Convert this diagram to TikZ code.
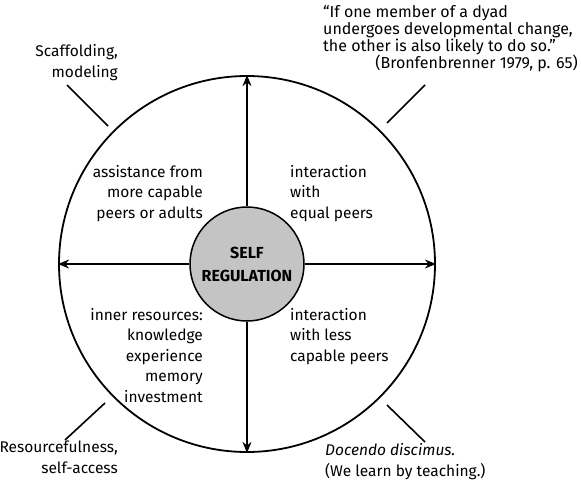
\documentclass[tikz,border=0pt]{standalone}
\usepackage{fontspec}
\setmainfont{Fira Sans}
\usetikzlibrary{arrows.meta}
\definecolor{innergray}{HTML}{C4C4C4}
\tikzset{
  lbl/.style={inner sep=0pt, font=\fontsize{15.5}{20.5}\selectfont},
  qlbl/.style={inner sep=0pt, font=\fontsize{16}{17}\selectfont},
  ring/.style={circle, draw, line width=1.8pt, minimum size=376pt, inner sep=0pt},
  hub/.style={circle, draw, line width=1.5pt, fill=innergray, minimum size=114pt, inner sep=0pt,
    align=center, font=\fontsize{16}{23}\selectfont\bfseries},
  spoke/.style={line width=1.4pt, -{Stealth[length=11pt,width=9pt]}},
  tick/.style={line width=1.6pt}
}
\begin{document}
\begin{tikzpicture}[x=1pt,y=-1pt]
\useasboundingbox (0,0) rectangle (581,480);
\node[ring] (outer) at (247,264) {};
\node[hub] (inner) at (247,264) {SELF\\REGULATION};
\draw[spoke] (inner.north) -- (outer.north);
\draw[spoke] (inner.south) -- (outer.south);
\draw[spoke] (inner.west) -- (outer.west);
\draw[spoke] (inner.east) -- (outer.east);
\coordinate (tla) at (67,85); \coordinate (tlb) at (108,126);
\coordinate (tra) at (425,85); \coordinate (trb) at (387,123);
\coordinate (bla) at (65,440); \coordinate (blb) at (105,403);
\coordinate (bra) at (425,442); \coordinate (brb) at (387,405);
\draw[tick] (tla) -- (tlb);
\draw[tick] (tra) -- (trb);
\draw[tick] (bla) -- (blb);
\draw[tick] (bra) -- (brb);
\node[lbl, anchor=base east, align=right] (scaf) at (118,77) {Scaffolding,\\modeling};
\node[qlbl, anchor=base west, align=left] (quote) at (323,51) {``If one member of a dyad\\undergoes developmental change,\\the other is also likely to do so.''};
\node[qlbl, anchor=base east] (cite) at (578,68) {(Bronfenbrenner 1979, p. 65)};
\node[lbl, anchor=base east, align=right] (tlin) at (203,218) {assistance from\\more capable\\peers or adults};
\node[lbl, anchor=base west, align=left] (trin) at (290,218) {interaction\\with\\equal peers};
\node[lbl, anchor=base east, align=right] (blin) at (203,402) {inner resources:\\knowledge\\experience\\memory\\investment};
\node[lbl, anchor=base west, align=left] (brin) at (290,361) {interaction\\with less\\capable peers};
\node[lbl, anchor=base east, align=right] (res) at (118,473) {Resourcefulness,\\self-access};
\node[lbl, anchor=base west, align=left] (doc) at (325,476) {\textit{Docendo discimus.}\\(We learn by teaching.)};
\end{tikzpicture}
\end{document}
